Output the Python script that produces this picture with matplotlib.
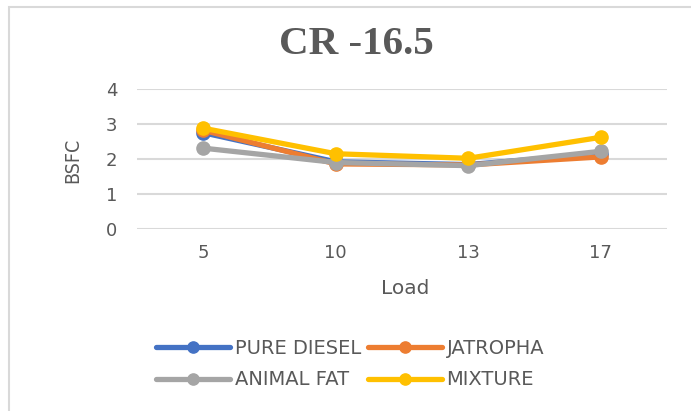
import matplotlib
matplotlib.use("Agg")
import matplotlib.pyplot as plt
from matplotlib.patches import Rectangle

loads = ["5", "10", "13", "17"]
pure_diesel = [2.75, 1.92, 1.84, 2.15]
jatropha = [2.82, 1.86, 1.83, 2.06]
animal_fat = [2.31, 1.90, 1.81, 2.22]
mixture = [2.88, 2.15, 2.02, 2.62]
series_names = ["PURE DIESEL", "JATROPHA", "ANIMAL FAT", "MIXTURE"]
colors = ["#4472C4", "#ED7D31", "#A5A5A5", "#FFC000"]
yticks = [0, 1, 2, 3, 4]

plt.rcParams['font.family'] = ['DejaVu Sans']
W, H = 691, 411
fig = plt.figure(figsize=(W / 100, H / 100), dpi=100)
fig.patches.append(Rectangle((9 / W, -0.1), 1.1, 1 - 7 / H + 0.1, transform=fig.transFigure,
                             fill=False, edgecolor="#D9D9D9", linewidth=1.5))

ax = fig.add_axes([137 / W, 1 - 229 / H, (667 - 137) / W, (229 - 89) / H])
x = list(range(len(loads)))
handles = []
for vals, name, c in zip([pure_diesel, jatropha, animal_fat, mixture], series_names, colors):
    h, = ax.plot(x, vals, color=c, lw=3.8, marker="o", ms=9.5, label=name, solid_capstyle="round")
    handles.append(h)

ax.set_xlim(-0.5, len(loads) - 0.5)
ax.set_ylim(0, 4)
ax.set_yticks(yticks)
ax.set_xticks(x)
ax.set_xticklabels(loads)
ax.grid(axis="y", color="#D9D9D9", lw=1.5)
ax.set_axisbelow(True)
for s in ax.spines.values():
    s.set_visible(False)
ax.tick_params(length=0, labelsize=13, colors="#595959")
ax.tick_params(axis="y", pad=14)
ax.tick_params(axis="x", pad=11)
ax.set_xlabel("Load", fontsize=14.5, color="#595959", va="center")
ax.xaxis.set_label_coords((405 - 137) / 530, -(289 - 229) / 140)
ax.set_ylabel("BSFC", fontsize=14, color="#595959", fontstretch="condensed", va="center")
ax.yaxis.set_label_coords((73 - 137) / 530, (229 - 160) / 140)

fig.text(356 / W, 1 - 45 / H, "CR -16.5", ha="center", va="center", fontsize=29.5,
         fontweight="bold", color="#595959", family=["Liberation Serif", "DejaVu Serif"])

order = [0, 2, 1, 3]
leg = fig.legend([handles[i] for i in order], [series_names[i] for i in order], ncol=2,
                 loc="center", bbox_to_anchor=(350 / W, 1 - 364 / H), frameon=False,
                 fontsize=14, handlelength=3.8, handletextpad=0.25, columnspacing=0.35,
                 labelspacing=0.65, labelcolor="#595959", markerscale=0.85)

fig.savefig("out.png", dpi=100)
